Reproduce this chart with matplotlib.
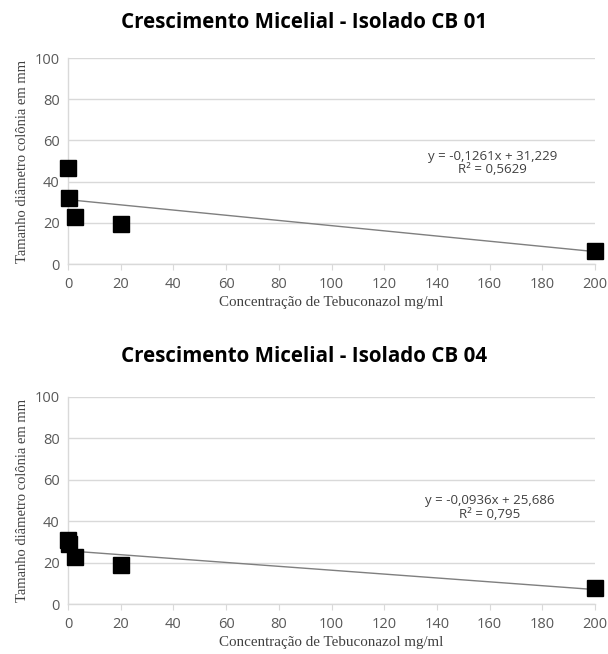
import matplotlib
matplotlib.use("Agg")
import matplotlib.pyplot as plt
import numpy as np

# ---------------------------------------------------------------------------
# Data
# ---------------------------------------------------------------------------
titles = ["Crescimento Micelial - Isolado CB 01",
          "Crescimento Micelial - Isolado CB 04"]

conc = [0, 0.5, 2.5, 20, 200]                   # Tebuconazol mg/ml
cb01 = [46.5, 32.0, 23.0, 19.5, 6.5]            # colony diameter, mm
cb04 = [31.0, 29.0, 22.5, 19.0, 7.5]

# linear trendline coefficients printed on the chart (slope, intercept)
fit_cb01 = (-0.1261, 31.229)
fit_cb04 = (-0.0936, 25.686)
eq_cb01 = "y = -0,1261x + 31,229\nR² = 0,5629"
eq_cb04 = "y = -0,0936x + 25,686\nR² = 0,795"

yticks = [0, 20, 40, 60, 80, 100]
xticks = [0, 20, 40, 60, 80, 100, 120, 140, 160, 180, 200]

tick_color = "#595959"
grid_color = "#d9d9d9"

fig = plt.figure(figsize=(6.08, 6.54), dpi=100)

# axes positions in figure fractions (left, bottom, width, height)
boxes = [
    (68 / 608, 1 - 264 / 654, 527 / 608, 206 / 654),
    (68 / 608, 1 - 604 / 654, 527 / 608, 207 / 654),
]
title_y = [1 - 22 / 654, 1 - 356 / 654]
eq_pos = [(161, 49), (160, 46.5)]

for box, ty, title, ys, fit, eq, ep in zip(boxes, title_y, titles,
                                           [cb01, cb04], [fit_cb01, fit_cb04],
                                           [eq_cb01, eq_cb04], eq_pos):
    ax = fig.add_axes(box)

    # trendline
    xs = np.array([0, 200])
    ax.plot(xs, fit[0] * xs + fit[1], color="#7f7f7f", lw=1.0, zorder=2)

    ax.plot(conc, ys, linestyle="none", marker="s", markersize=11,
            color="black", zorder=3, clip_on=False)

    ax.text(ep[0], ep[1], eq, ha="center", va="center", fontsize=9.5,
            color="#404040", family="Open Sans", linespacing=1.05)

    ax.set_xlim(0, 200)
    ax.set_ylim(0, 100)
    ax.set_yticks(yticks)
    ax.set_xticks(xticks)
    ax.grid(axis="y", color=grid_color, lw=1.0)
    ax.set_axisbelow(True)
    for s in ("top", "right"):
        ax.spines[s].set_visible(False)
    for s in ("left", "bottom"):
        ax.spines[s].set_color(grid_color)
        ax.spines[s].set_linewidth(1.0)
    ax.tick_params(axis="y", length=0, pad=6, labelsize=10.5,
                   labelcolor=tick_color)
    ax.tick_params(axis="x", length=4, color=grid_color, pad=5,
                   labelsize=10.5, labelcolor=tick_color)
    for lab in ax.get_xticklabels() + ax.get_yticklabels():
        lab.set_family("Open Sans")

    ax.set_xlabel("Concentração de Tebuconazol mg/ml", family="Liberation Serif",
                  fontsize=10.8, color="#404040", labelpad=3)
    ax.set_ylabel("Tamanho diâmetro colônia em mm", family="Liberation Serif",
                  fontsize=10.5, color="#404040", labelpad=4)

    fig.text(0.5, ty, title, ha="center", va="center", fontsize=14.8,
             fontweight="bold", family="Open Sans", color="black")

fig.savefig("out.png", dpi=100)
